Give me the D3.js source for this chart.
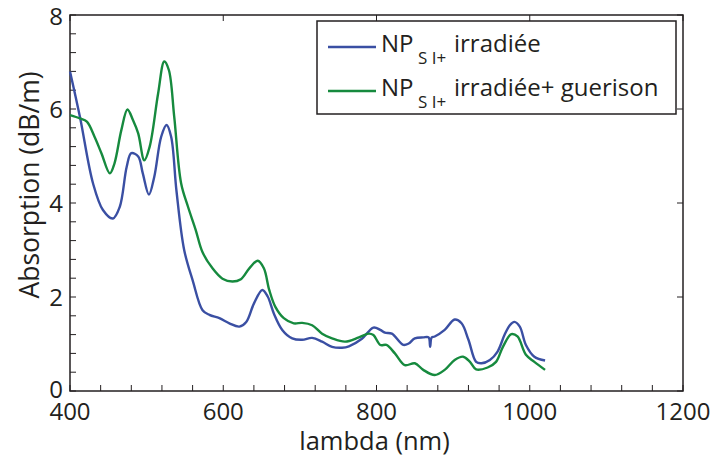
<!DOCTYPE html>
<html><head><meta charset="utf-8">
<script src="https://cdn.jsdelivr.net/npm/d3@7/dist/d3.min.js"></script>
<style>body{margin:0;background:#fff}svg{display:block}text{font-family:"Open Sans","Noto Sans",sans-serif;fill:#231f20}</style>
</head><body><svg id="c" width="710" height="458"></svg>
<script>
// data
const seriesNames = ["irradiée", "irradiée+ guerison"];
const blueLambda = [400,413,430,443,456,465,474,480,489,495,503,510,519,526,532,539,549,560,573,582,595,608,621,630,640,651,658,666,677,690,703,716,729,742,755,764,781,796,805,811,820,835,842,850,861,868,870,872,876,889,902,911,920,930,937,948,958,967,974,980,987,995,1006,1020];
const blueValue  = [6.8,5.83,4.42,3.85,3.67,3.92,4.77,5.06,4.99,4.63,4.18,4.56,5.41,5.66,5.41,4.25,3.0,2.36,1.72,1.62,1.55,1.44,1.37,1.47,1.86,2.15,2.01,1.65,1.30,1.12,1.09,1.13,1.05,0.94,0.92,0.95,1.11,1.35,1.30,1.24,1.22,0.98,1.01,1.12,1.14,1.14,0.94,1.14,1.16,1.30,1.52,1.44,1.09,0.62,0.59,0.66,0.84,1.19,1.40,1.47,1.37,0.98,0.73,0.65];
const greenLambda = [400,413,422,432,441,452,458,467,475,482,489,497,504,515,523,529,536,545,554,564,573,586,599,612,623,634,645,653,660,668,679,692,703,716,729,742,759,777,790,796,805,813,824,837,850,861,876,889,902,913,922,930,945,956,965,976,984,995,1006,1020];
const greenValue  = [5.87,5.80,5.73,5.41,5.06,4.63,4.84,5.55,5.99,5.77,5.48,4.91,5.20,6.33,7.01,6.83,5.84,4.42,3.92,3.43,2.95,2.61,2.39,2.33,2.38,2.61,2.77,2.61,2.15,1.79,1.55,1.44,1.45,1.40,1.22,1.12,1.05,1.14,1.22,1.19,0.98,0.98,0.80,0.55,0.59,0.45,0.34,0.45,0.66,0.73,0.62,0.46,0.50,0.62,0.94,1.21,1.16,0.77,0.62,0.45];
const xTickLabels = [400,600,800,1000,1200];
const yTickLabels = [0,2,4,6,8];

const svg = d3.select("#c");
const L=70,R=683,T=15,B=391;
const x = d3.scaleLinear().domain([400,1200]).range([L,R]);
const y = d3.scaleLinear().domain([0,8]).range([B,T]);
const axisColor="#231f20";

// frame
svg.append("rect").attr("x",L).attr("y",T).attr("width",R-L).attr("height",B-T)
  .attr("fill","none").attr("stroke",axisColor).attr("stroke-width",1.5);

// bottom minor/major ticks (inward)
const bottomTicks = d3.range(400,1201,40);
svg.selectAll(".bt").data(bottomTicks).enter().append("line")
  .attr("x1",d=>x(d)).attr("x2",d=>x(d)).attr("y1",B).attr("y2",B-6)
  .attr("stroke",axisColor).attr("stroke-width",1);
const leftTicks = d3.range(0,8.01,0.4);
svg.selectAll(".lt").data(leftTicks).enter().append("line")
  .attr("x1",L).attr("x2",L+6).attr("y1",d=>y(d)).attr("y2",d=>y(d))
  .attr("stroke",axisColor).attr("stroke-width",1);
// top & right ticks at majors
svg.selectAll(".tt").data(xTickLabels).enter().append("line")
  .attr("x1",d=>x(d)).attr("x2",d=>x(d)).attr("y1",T).attr("y2",T+6)
  .attr("stroke",axisColor).attr("stroke-width",1);
svg.selectAll(".rt").data(yTickLabels).enter().append("line")
  .attr("x1",R).attr("x2",R-6).attr("y1",d=>y(d)).attr("y2",d=>y(d))
  .attr("stroke",axisColor).attr("stroke-width",1);

// tick labels
svg.selectAll(".xl").data(xTickLabels).enter().append("text")
  .attr("x",d=>x(d)).attr("y",B+29).attr("text-anchor","middle")
  .attr("font-size",24).text(d=>d);
svg.selectAll(".yl").data(yTickLabels).enter().append("text")
  .attr("x",L-7).attr("y",d=>y(d)+(d===0?7:(d===8?10:9))).attr("text-anchor","end")
  .attr("font-size",24).text(d=>d);

// axis titles
svg.append("text").attr("x",(L+R)/2-2).attr("y",450).attr("text-anchor","middle")
  .attr("font-size",25.5).text("lambda (nm)");
svg.append("text").attr("transform","translate(39,185) rotate(-90)").attr("text-anchor","middle")
  .attr("font-size",26.5).text("Absorption (dB/m)");

// curves
const colors=["#3a4fa3","#168a3e"];
const line = d3.line().x(d=>x(d[0])).y(d=>y(d[1])).curve(d3.curveCatmullRom.alpha(0.5));
const series=[d3.zip(blueLambda,blueValue), d3.zip(greenLambda,greenValue)];
svg.selectAll(".s").data(series).enter().append("path")
  .attr("d",line).attr("fill","none").attr("stroke",(d,i)=>colors[i]).attr("stroke-width",2.4);

// legend
const lg = svg.append("g");
lg.append("rect").attr("x",317).attr("y",21).attr("width",359).attr("height",93)
  .attr("fill","#fff").attr("stroke",axisColor).attr("stroke-width",1.5);
const rows=[47,91];
seriesNames.forEach((name,i)=>{
  lg.append("line").attr("x1",328).attr("x2",376).attr("y1",rows[i]).attr("y2",rows[i])
    .attr("stroke",colors[i]).attr("stroke-width",2.4);
  lg.append("text").attr("x",381).attr("y",rows[i]+5).attr("font-size",24).text("NP");
  lg.append("text").attr("x",418).attr("y",rows[i]+17).attr("font-size",17).text("S I+");
  lg.append("text").attr("x",454).attr("y",rows[i]+5).attr("font-size",24).text(name);
});
</script></body></html>
